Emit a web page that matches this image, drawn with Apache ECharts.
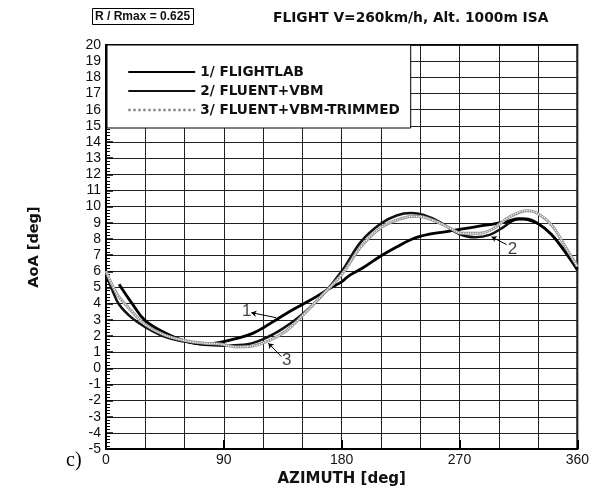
<!DOCTYPE html>
<html>
<head>
<meta charset="utf-8">
<script src="https://cdn.jsdelivr.net/npm/echarts@6/dist/echarts.min.js"></script>
<style>
  html, body { margin: 0; padding: 0; background: #fff; }
  #chart { width: 592px; height: 492px; }
</style>
</head>
<body>
<div id="chart"></div>
<script>
// curve 1 - FLIGHTLAB
const az1 = [10, 20, 30, 45, 60, 75, 87, 100, 112, 122, 131, 140, 150, 161, 171, 180, 186, 196, 209, 222, 234, 247, 260, 270, 290, 305, 315, 322, 330, 340, 350, 360]
const aoa1 = [5.2, 4.0, 2.95, 2.2, 1.7, 1.5, 1.6, 1.85, 2.16, 2.6, 3.05, 3.5, 3.95, 4.45, 4.95, 5.35, 5.75, 6.2, 6.9, 7.5, 8.0, 8.3, 8.45, 8.6, 8.85, 9.05, 9.25, 9.2, 8.95, 8.3, 7.3, 6.1]
// curve 2 - FLUENT+VBM
const az2 = [0, 5, 10, 20, 30, 45, 60, 75, 90, 105, 120, 135, 150, 165, 180, 195, 210, 222, 233, 242, 255, 270, 282, 293, 303, 313, 321, 330, 340, 350, 360]
const aoa2 = [5.8, 4.8, 3.95, 3.1, 2.55, 1.95, 1.65, 1.45, 1.4, 1.45, 1.8, 2.45, 3.35, 4.5, 6.0, 7.85, 8.95, 9.45, 9.6, 9.5, 9.05, 8.3, 8.1, 8.25, 8.7, 9.2, 9.25, 8.95, 8.3, 7.25, 6.1]
// curve 3 - FLUENT+VBM-TRIMMED
const az3 = [0, 5, 10, 20, 30, 45, 60, 75, 87, 100, 110, 125, 138, 150, 163, 180, 195, 210, 225, 238, 250, 262, 272, 285, 295, 308, 322, 328, 340, 351, 360]
const aoa3 = [6.0, 5.1, 4.4, 3.5, 2.7, 2.05, 1.72, 1.55, 1.5, 1.32, 1.35, 1.73, 2.34, 3.25, 4.35, 5.8, 7.55, 8.7, 9.25, 9.4, 9.15, 8.7, 8.35, 8.35, 8.6, 9.35, 9.75, 9.65, 8.9, 7.5, 6.3]

const names = ['1/ FLIGHTLAB', '2/ FLUENT+VBM', '3/ FLUENT+VBM-TRIMMED']
const xLabels = [0, 90, 180, 270, 360]

// curve numbers and their pointer lines (in data units)
const noteText = ['1', '3', '2']
const noteAt = [[107.5, 3.5], [138, 0.5], [310.5, 7.35]]
const arrowFrom = [[111, 3.44], [124, 1.55], [294.5, 8.13]]
const arrowTo = [[130, 3.13], [134, 0.72], [306, 7.65]]

const pairs = (xs, ys) => xs.map((x, i) => [x, ys[i]])
const FONT = 'Liberation Sans, Arial, sans-serif'
const BOLD = 'DejaVu Sans, Liberation Sans, sans-serif'

var myChart = echarts.init(document.getElementById('chart'))
var option = {
  backgroundColor: '#fff',
  animation: false,
  title: [
    {
      text: 'R / Rmax = 0.625',
      left: 92,
      top: 8,
      padding: [3, 4, 2, 3],
      borderColor: '#000',
      borderWidth: 1,
      textStyle: { fontFamily: FONT, fontSize: 12, fontWeight: 'bold', color: '#111' }
    },
    {
      text: 'FLIGHT V=260km/h, Alt. 1000m ISA',
      left: 273,
      top: 11,
      padding: 0,
      textStyle: { fontFamily: BOLD, fontSize: 13.8, fontWeight: 'bold', color: '#111' }
    },
    {
      text: 'c)',
      left: 66,
      top: 451,
      padding: 0,
      textStyle: { fontFamily: 'Liberation Serif, Times New Roman, serif', fontSize: 20, fontWeight: 'normal', color: '#000' }
    }
  ],
  legend: {
    orient: 'vertical',
    left: 107,
    top: 45,
    padding: [20, 11, 11, 20],
    backgroundColor: '#fff',
    borderColor: '#000',
    borderWidth: 1,
    itemWidth: 67,
    itemHeight: 14,
    itemGap: 5,
    selectedMode: false,
    itemStyle: { opacity: 0 },
    textStyle: { fontFamily: BOLD, fontSize: 13.6, fontWeight: 'bold', color: '#111' },
    data: [
      { name: names[0] },
      { name: names[1] },
      { name: names[2], lineStyle: { color: '#888', type: 'dotted', width: 2.5 } }
    ]
  },
  grid: {
    left: 106,
    right: 14,
    top: 45,
    bottom: 37,
    show: true,
    borderColor: '#000',
    borderWidth: 2
  },
  xAxis: [
    {
      type: 'value',
      min: 0,
      max: 360,
      interval: 30,
      name: 'AZIMUTH [deg]',
      nameLocation: 'middle',
      nameGap: 17,
      nameTextStyle: { fontFamily: BOLD, fontSize: 15, fontWeight: 'bold', color: '#111', verticalAlign: 'top' },
      axisLine: { show: true, onZero: false, lineStyle: { color: '#000', width: 2 } },
      axisTick: { show: false },
      axisLabel: {
        margin: 4,
        fontFamily: FONT,
        fontSize: 14,
        color: '#111',
        formatter: v => (xLabels.indexOf(v) >= 0 ? String(v) : '')
      },
      splitLine: { show: true, lineStyle: { color: '#222', width: 1 } }
    },
    {
      // longer marks at 90 deg steps
      type: 'value',
      min: 0,
      max: 360,
      interval: 90,
      position: 'bottom',
      axisLine: { show: false, onZero: false },
      axisTick: { show: true, inside: true, length: 9, lineStyle: { color: '#000', width: 2 } },
      axisLabel: { show: false },
      splitLine: { show: false }
    }
  ],
  yAxis: {
    type: 'value',
    min: -5,
    max: 20,
    interval: 1,
    name: 'AoA [deg]',
    nameLocation: 'middle',
    nameGap: 64,
    nameTextStyle: { fontFamily: BOLD, fontSize: 14.5, fontWeight: 'bold', color: '#111' },
    axisLine: { show: true, onZero: false, lineStyle: { color: '#000', width: 2 } },
    axisTick: { show: true, inside: true, length: 7, lineStyle: { color: '#000', width: 1.5 } },
    minorTick: { show: true, splitNumber: 5, length: 4, lineStyle: { color: '#000', width: 1 } },
    axisLabel: { margin: 5, fontFamily: FONT, fontSize: 14, color: '#111' },
    splitLine: { show: true, lineStyle: { color: '#222', width: 1 } }
  },
  series: [
    {
      name: names[0],
      type: 'line',
      smooth: 0.4,
      symbol: 'none',
      data: pairs(az1, aoa1),
      lineStyle: { color: '#000', width: 2.8 },
      itemStyle: { color: '#000' },
      z: 4
    },
    {
      name: names[1],
      type: 'line',
      smooth: 0.4,
      symbol: 'none',
      data: pairs(az2, aoa2),
      lineStyle: { color: '#111', width: 2.5 },
      itemStyle: { color: '#111' },
      z: 3
    },
    {
      name: names[2],
      type: 'line',
      smooth: 0.4,
      symbol: 'none',
      data: pairs(az3, aoa3),
      lineStyle: { color: '#999', width: 3 },
      itemStyle: { color: '#999' },
      z: 5
    },
    {
      // white dotted core of curve 3
      type: 'line',
      smooth: 0.4,
      symbol: 'none',
      silent: true,
      data: pairs(az3, aoa3),
      lineStyle: { color: '#fff', width: 1.2, type: 'dotted' },
      z: 6
    },
    {
      type: 'scatter',
      symbolSize: 0,
      silent: true,
      data: noteAt.map((p, i) => ({ value: p, label: { formatter: noteText[i] } })),
      label: {
        show: true,
        position: 'inside',
        fontFamily: FONT,
        fontSize: 17,
        color: '#111'
      },
      markLine: {
        silent: true,
        symbol: ['none', 'arrow'],
        symbolSize: 5,
        label: { show: false },
        lineStyle: { color: '#000', width: 1, type: 'solid' },
        data: arrowFrom.map((p, i) => [{ coord: arrowTo[i] }, { coord: p }])
      },
      z: 7
    }
  ]
}
myChart.setOption(option)
</script>
</body>
</html>
